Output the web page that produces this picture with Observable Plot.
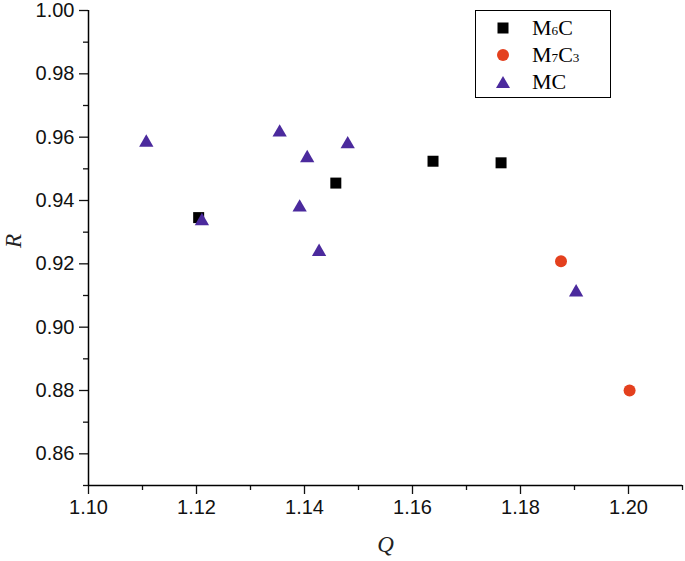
<!DOCTYPE html>
<html>
<head>
<meta charset="utf-8">
<script src="https://cdn.jsdelivr.net/npm/d3@7"></script>
<script src="https://cdn.jsdelivr.net/npm/@observablehq/plot@0.6"></script>
<style>
  html, body { margin: 0; padding: 0; background: #fff; }
  #wrap { position: relative; width: 685px; height: 561px; }
  #legend { position: absolute; left: 475px; top: 10px; width: 134px; height: 86px;
            border: 1.2px solid #000; background: #fff; font-family: "Liberation Serif", serif; font-size: 22px; }
  .row { position: absolute; left: 0; height: 26px; width: 134px; }
  .row svg { position: absolute; left: 20px; top: 6px; }
  .row span.t { position: absolute; left: 56px; top: 0px; line-height: 26px; white-space: nowrap; }
  .s { font-size: 0.6em; }
</style>
</head>
<body>
<div id="wrap"></div>
<script>
// Data
const seriesNames = ["M6C", "M7C3", "MC"];
const q_M6C = [1.1204, 1.1458, 1.1638, 1.1764];
const r_M6C = [0.9346, 0.9455, 0.9524, 0.9519];
const q_M7C3 = [1.1875, 1.2002];
const r_M7C3 = [0.9208, 0.8800];
const q_MC = [1.1107, 1.1210, 1.1354, 1.1405, 1.1480, 1.1391, 1.1427, 1.1903];
const r_MC = [0.9583, 0.9335, 0.9615, 0.9534, 0.9578, 0.9378, 0.9238, 0.9110];

const xDomain = [1.10, 1.21];
const yDomain = [0.85, 1.00];
const xMajor = [1.10, 1.12, 1.14, 1.16, 1.18, 1.20];
const xMinor = [1.11, 1.13, 1.15, 1.17, 1.19, 1.21];
const yMajor = [0.86, 0.88, 0.90, 0.92, 0.94, 0.96, 0.98, 1.00];
const yMinor = [0.85, 0.87, 0.89, 0.91, 0.93, 0.95, 0.97, 0.99];

const colors = { M6C: "#000000", M7C3: "#e4401e", MC: "#4b2a9d" };

const toRows = (qs, rs, s) => qs.map((q, i) => ({ q, r: rs[i], s }));
const dM6C = toRows(q_M6C, r_M6C, "M6C");
const dM7C3 = toRows(q_M7C3, r_M7C3, "M7C3");
const dMC = toRows(q_MC, r_MC, "MC");

const fmt = d3.format(".2f");
const tickFont = { fontSize: 20, fontFamily: "Liberation Sans, Arial, sans-serif", fill: "#111" };

const chart = Plot.plot({
  width: 685,
  height: 561,
  marginLeft: 88,
  marginRight: 3,
  marginTop: 10,
  marginBottom: 76,
  style: { fontFamily: "Liberation Sans, Arial, sans-serif", fontSize: "20px", color: "#111", background: "#fff" },
  x: { domain: xDomain },
  y: { domain: yDomain },
  marks: [
    Plot.axisX({ ticks: xMinor, tickSize: 5, tickFormat: () => "", strokeWidth: 1.3, label: null }),
    Plot.axisX({ ticks: xMajor, tickSize: 9, tickPadding: 5, tickFormat: fmt, strokeWidth: 1.3, label: null, ...tickFont }),
    Plot.axisY({ ticks: yMinor, tickSize: 5, tickFormat: () => "", strokeWidth: 1.3, label: null }),
    Plot.axisY({ ticks: yMajor, tickSize: 9, tickPadding: 5, tickFormat: fmt, strokeWidth: 1.3, label: null, ...tickFont }),
    Plot.ruleX([xDomain[0]], { stroke: "#000", strokeWidth: 1.5 }),
    Plot.ruleY([yDomain[0]], { stroke: "#000", strokeWidth: 1.5 }),
    Plot.dot(dM6C, { x: "q", y: "r", symbol: "square", r: 6.2, fill: colors.M6C, stroke: "none" }),
    Plot.dot(dM7C3, { x: "q", y: "r", symbol: "circle", r: 6, fill: colors.M7C3, stroke: "none" }),
    Plot.dot(dMC, { x: "q", y: "r", symbol: "triangle", r: 5.3, fill: colors.MC, stroke: "none" }),
    Plot.text(["Q"], { frameAnchor: "bottom", dy: 66, fontFamily: "Liberation Serif, serif", fontStyle: "italic", fontSize: 23, fill: "#222" }),
    Plot.text(["R"], { frameAnchor: "left", dx: -75, rotate: -90, fontFamily: "Liberation Serif, serif", fontStyle: "italic", fontSize: 23, fill: "#222" })
  ]
});

const wrap = document.getElementById("wrap");
wrap.appendChild(chart);

// Legend
const legend = document.createElement("div");
legend.id = "legend";
const sym = {
  M6C: `<svg width="14" height="14"><rect x="1.5" y="1.5" width="11" height="11" fill="${colors.M6C}"/></svg>`,
  M7C3: `<svg width="14" height="14"><circle cx="7" cy="7" r="6" fill="${colors.M7C3}"/></svg>`,
  MC: `<svg width="14" height="14"><polygon points="7,1 14,13 0,13" fill="${colors.MC}"/></svg>`
};
const labels = {
  M6C: 'M<span class="s">6</span>C',
  M7C3: 'M<span class="s">7</span>C<span class="s">3</span>',
  MC: 'MC'
};
seriesNames.forEach((n, i) => {
  const row = document.createElement("div");
  row.className = "row";
  row.style.top = (4 + i * 27) + "px";
  row.innerHTML = sym[n] + `<span class="t">${labels[n]}</span>`;
  legend.appendChild(row);
});
wrap.appendChild(legend);
</script>
</body>
</html>
